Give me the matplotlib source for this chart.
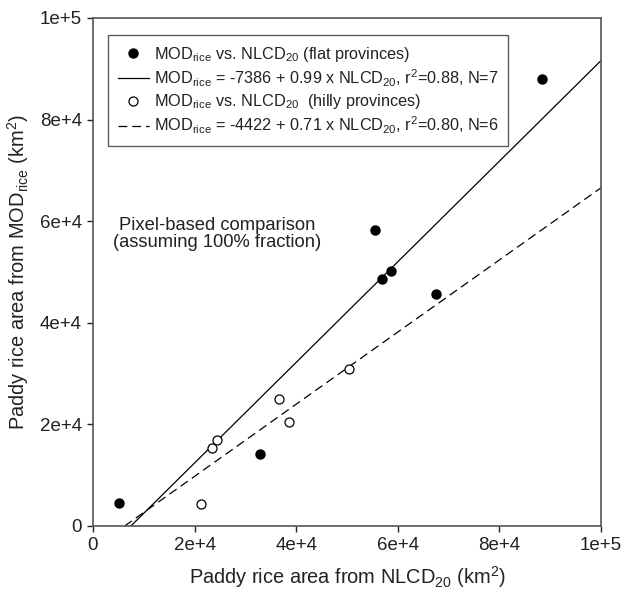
import matplotlib
matplotlib.use("Agg")
import matplotlib.pyplot as plt
import numpy as np

plt.rcParams['font.family'] = ['Liberation Sans', 'DejaVu Sans']
plt.rcParams['mathtext.fontset'] = 'custom'
plt.rcParams['mathtext.rm'] = 'Liberation Sans'
plt.rcParams['mathtext.it'] = 'Liberation Sans:italic'
plt.rcParams['mathtext.default'] = 'regular'

# Data (km^2)
flat_x = [5100, 32800, 55500, 56800, 58700, 67500, 88300]
flat_y = [4600, 14100, 58300, 48700, 50200, 45600, 88000]
hilly_x = [21200, 23500, 24400, 36700, 38500, 50300]
hilly_y = [4400, 15300, 17000, 25000, 20400, 30900]

flat_fit = (-7386, 0.99)
hilly_fit = (-4422, 0.71)

xticks = [0, 20000, 40000, 60000, 80000, 100000]
xticklabels = ['0', '2e+4', '4e+4', '6e+4', '8e+4', '1e+5']
yticks = [0, 20000, 40000, 60000, 80000, 100000]
yticklabels = ['0', '2e+4', '4e+4', '6e+4', '8e+4', '1e+5']

fig = plt.figure(figsize=(6.22, 5.90), dpi=100)
ax = fig.add_axes([93/622, 1-526/590, (601-93)/622, (526-18)/590])

ax.plot(flat_x, flat_y, 'o', color='black', markersize=6.5, zorder=3,
        label=r'MOD$_{rice}$ vs. NLCD$_{20}$ (flat provinces)')

def fit_line(a, b):
    x0 = -a / b
    xs = np.array([x0, 100000])
    return xs, a + b * xs

xs, ys = fit_line(*flat_fit)
ax.plot(xs, ys, '-', color='black', linewidth=0.9,
        label=r'MOD$_{rice}$ = -7386 + 0.99 x NLCD$_{20}$, r$^{2}$=0.88, N=7')
ax.plot(hilly_x, hilly_y, 'o', markerfacecolor='white', markeredgecolor='black',
        markeredgewidth=0.9, markersize=6.5, zorder=3, linestyle='none',
        label=r'MOD$_{rice}$ vs. NLCD$_{20}$  (hilly provinces)')
xs, ys = fit_line(*hilly_fit)
ax.plot(xs, ys, color='black', linewidth=0.9, dashes=(7, 4),
        label=r'MOD$_{rice}$ = -4422 + 0.71 x NLCD$_{20}$, r$^{2}$=0.80, N=6')

ax.set_xlim(0, 100000)
ax.set_ylim(0, 100000)
ax.set_xticks(xticks)
ax.set_xticklabels(xticklabels)
ax.set_yticks(yticks)
ax.set_yticklabels(yticklabels)
ax.tick_params(direction='out', length=4, width=1, labelsize=13.5,
               colors='#222222', pad=4)
for s in ax.spines.values():
    s.set_color('#555555')
    s.set_linewidth(1.2)

ax.set_xlabel(r'Paddy rice area from NLCD$_{20}$ (km$^{2}$)', fontsize=14.4,
              color='#222222', labelpad=7)
ax.set_ylabel(r'Paddy rice area from MOD$_{rice}$ (km$^{2}$)', fontsize=14.4,
              color='#222222', labelpad=6)

ax.text(0.245, 0.575, 'Pixel-based comparison\n(assuming 100% fraction)',
        transform=ax.transAxes, ha='center', va='center', fontsize=13.2,
        color='#222222', linespacing=1.05)

leg = ax.legend(loc='upper left', bbox_to_anchor=(15/508, 1-17/508), fontsize=11.7,
                frameon=True, fancybox=False, handlelength=1.9, handletextpad=0.3,
                borderpad=0.6, borderaxespad=0, labelspacing=0.22)
leg.get_frame().set_edgecolor('#333333')
leg.get_frame().set_linewidth(1.0)
for t in leg.get_texts():
    t.set_color('#222222')

fig.savefig('out.png', dpi=100)
